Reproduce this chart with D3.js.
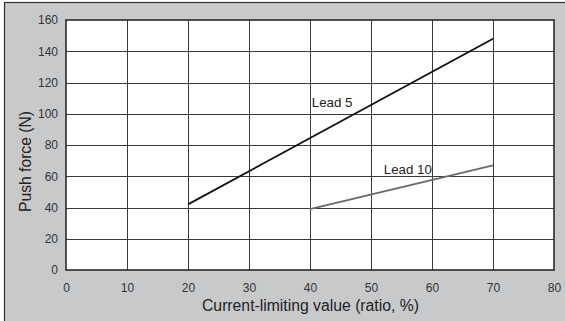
<!DOCTYPE html>
<html>
<head>
<meta charset="utf-8">
<script src="https://cdn.jsdelivr.net/npm/d3@7"></script>
<style>
  html, body { margin: 0; padding: 0; background: #ffffff; }
  svg { display: block; font-family: "Liberation Sans", Arial, sans-serif; }
</style>
</head>
<body>
<svg id="chart" width="565" height="321"></svg>
<script>
// Push force vs. current-limiting value for two screw leads
const xTicks = [0, 10, 20, 30, 40, 50, 60, 70, 80];
const yTicks = [0, 20, 40, 60, 80, 100, 120, 140, 160];
const lead5X = [20, 70];
const lead5Y = [42, 148];
const lead10X = [40, 70];
const lead10Y = [39, 67];
const seriesNames = ["Lead 5", "Lead 10"];
const xTitle = "Current-limiting value (ratio, %)";
const yTitle = "Push force (N)";

const svg = d3.select("#chart");
const W = 565, H = 321;
const plot = { left: 66, top: 20, right: 554, bottom: 270 };

// outer gray panel
svg.append("rect")
  .attr("x", 4.5).attr("y", 2.5)
  .attr("width", W + 10).attr("height", H + 10)
  .attr("fill", "#c8c9cb").attr("stroke", "#333").attr("stroke-width", 1.2);

const x = d3.scaleLinear().domain([0, 80]).range([plot.left, plot.right]);
const y = d3.scaleLinear().domain([0, 160]).range([plot.bottom, plot.top]);

// plot background
svg.append("rect")
  .attr("x", plot.left).attr("y", plot.top)
  .attr("width", plot.right - plot.left).attr("height", plot.bottom - plot.top)
  .attr("fill", "#ffffff");

// grid
const grid = svg.append("g").attr("stroke", "#3a3a3a").attr("stroke-width", 1);
grid.selectAll("line.v").data(xTicks.slice(1, -1)).join("line")
  .attr("x1", d => Math.round(x(d)) + 0.5).attr("x2", d => Math.round(x(d)) + 0.5)
  .attr("y1", plot.top).attr("y2", plot.bottom);
grid.selectAll("line.h").data(yTicks.slice(1, -1)).join("line")
  .attr("y1", d => Math.round(y(d)) + 0.5).attr("y2", d => Math.round(y(d)) + 0.5)
  .attr("x1", plot.left).attr("x2", plot.right);

// frame
svg.append("rect")
  .attr("x", plot.left).attr("y", plot.top)
  .attr("width", plot.right - plot.left).attr("height", plot.bottom - plot.top)
  .attr("fill", "none").attr("stroke", "#2a2a2a").attr("stroke-width", 1.6);

// axes (labels only)
const xAxis = svg.append("g")
  .attr("transform", `translate(0,${plot.bottom})`)
  .call(d3.axisBottom(x).tickValues(xTicks).tickSize(0).tickPadding(13));
const yAxis = svg.append("g")
  .attr("transform", `translate(${plot.left},0)`)
  .call(d3.axisLeft(y).tickValues(yTicks).tickSize(0).tickPadding(8));
[xAxis, yAxis].forEach(a => {
  a.select(".domain").remove();
  a.selectAll("text")
    .attr("fill", "#333")
    .style("font-size", "12px")
    .style("font-family", "'Liberation Sans', Arial, sans-serif");
});

// series lines
const line = d3.line().x(d => x(d[0])).y(d => y(d[1]));
svg.append("path")
  .datum(d3.zip(lead5X, lead5Y))
  .attr("d", line).attr("fill", "none")
  .attr("stroke", "#111").attr("stroke-width", 1.8);
svg.append("path")
  .datum(d3.zip(lead10X, lead10Y))
  .attr("d", line).attr("fill", "none")
  .attr("stroke", "#6a6a6a").attr("stroke-width", 1.8);

// series labels
svg.append("text").attr("x", x(40.3)).attr("y", y(104.5))
  .attr("fill", "#222").style("font-size", "13.3px").text(seriesNames[0]);
svg.append("text").attr("x", x(52.1)).attr("y", y(61.5))
  .attr("fill", "#222").style("font-size", "13.3px").text(seriesNames[1]);

// axis titles
svg.append("text")
  .attr("x", 310.5).attr("y", 311)
  .attr("text-anchor", "middle").attr("fill", "#222")
  .attr("textLength", 217).attr("lengthAdjust", "spacingAndGlyphs")
  .style("font-size", "16px").text(xTitle);
svg.append("text")
  .attr("transform", `translate(31,161.5) rotate(-90)`)
  .attr("text-anchor", "middle").attr("fill", "#222")
  .attr("textLength", 101).attr("lengthAdjust", "spacingAndGlyphs")
  .style("font-size", "16px").text(yTitle);
</script>
</body>
</html>
